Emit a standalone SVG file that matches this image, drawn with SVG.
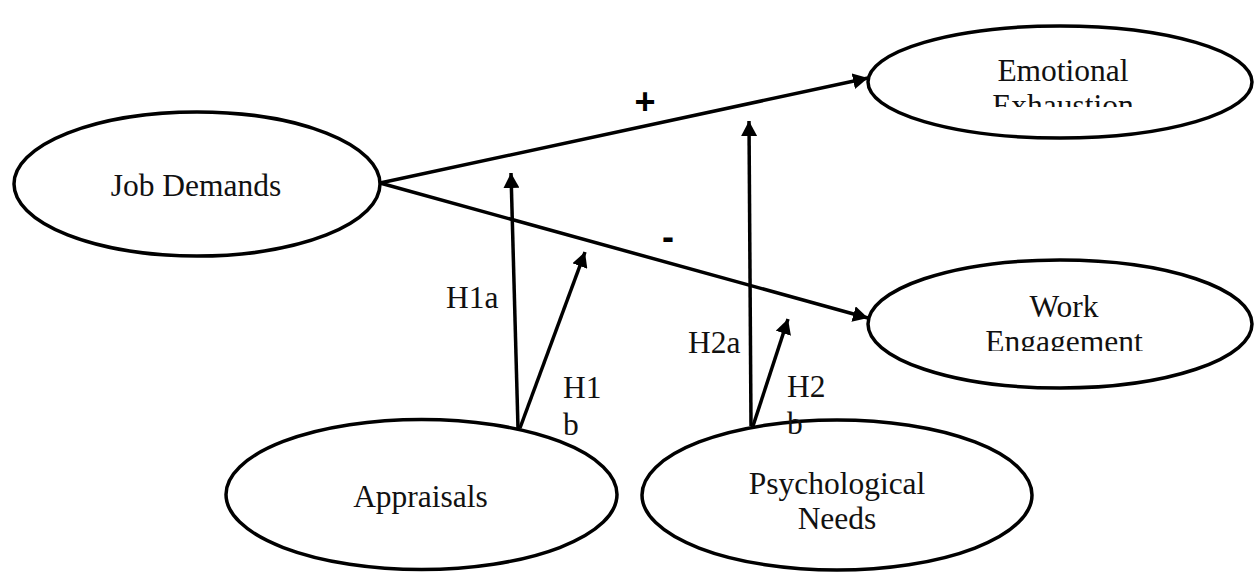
<svg xmlns="http://www.w3.org/2000/svg" width="1259" height="574" viewBox="0 0 1259 574">
  <style>
    .node ellipse { fill: #fff; stroke: #000; stroke-width: 3.5; }
    .lbl { font-family: "Liberation Serif", "Times New Roman", serif; font-size: 31.5px; fill: #111; }
    .sign { font-family: "Liberation Sans", Arial, sans-serif; font-size: 36px; font-weight: bold; fill: #000; }
    .conn line { stroke: #000; stroke-width: 3.5; marker-end: url(#arrow); }
  </style>
  <defs>
    <marker id="arrow" markerUnits="userSpaceOnUse" markerWidth="16" markerHeight="16" refX="15" refY="8" orient="auto">
      <path d="M0,0 L15,8 L0,16 Z" fill="#000"/>
    </marker>
    <clipPath id="clipEE"><rect x="860" y="20" width="400" height="87"/></clipPath>
    <clipPath id="clipWE"><rect x="860" y="250" width="400" height="101"/></clipPath>
  </defs>
  <rect width="1259" height="574" fill="#fff"/>

  <g id="job-demands" class="node">
    <ellipse cx="197" cy="184" rx="183" ry="72"/>
    <text class="lbl" x="196" y="196" text-anchor="middle">Job Demands</text>
  </g>
  <g id="emotional-exhaustion" class="node">
    <ellipse cx="1060" cy="82" rx="192" ry="56"/>
    <g clip-path="url(#clipEE)">
      <text class="lbl" x="1063" y="81" text-anchor="middle">Emotional</text>
      <text class="lbl" x="1063" y="116" text-anchor="middle">Exhaustion</text>
    </g>
  </g>
  <g id="work-engagement" class="node">
    <ellipse cx="1060" cy="324" rx="192" ry="64"/>
    <g clip-path="url(#clipWE)">
      <text class="lbl" x="1064" y="317" text-anchor="middle">Work</text>
      <text class="lbl" x="1064" y="352" text-anchor="middle">Engagement</text>
    </g>
  </g>
  <g id="appraisals" class="node">
    <ellipse cx="421.5" cy="494.5" rx="195.5" ry="75"/>
    <text class="lbl" x="420.5" y="507" text-anchor="middle">Appraisals</text>
  </g>
  <g id="psychological-needs" class="node">
    <ellipse cx="837" cy="495" rx="195" ry="75"/>
    <text class="lbl" x="837" y="494" text-anchor="middle">Psychological</text>
    <text class="lbl" x="837" y="529" text-anchor="middle">Needs</text>
  </g>

  <g id="connectors" class="conn">
    <line x1="380" y1="183" x2="868" y2="78"/>
    <line x1="380" y1="183" x2="868" y2="318"/>
    <line x1="518" y1="428" x2="511" y2="173"/>
    <line x1="520" y1="428" x2="585" y2="252"/>
    <line x1="751" y1="426" x2="749" y2="121"/>
    <line x1="753" y1="426" x2="788" y2="319"/>
  </g>

  <g id="labels">
    <text class="sign" x="645" y="114" text-anchor="middle">+</text>
    <text class="sign" x="668" y="249" text-anchor="middle">-</text>
    <text class="lbl" x="446" y="308">H1a</text>
    <text class="lbl" x="563" y="398">H1</text>
    <text class="lbl" x="563" y="435">b</text>
    <text class="lbl" x="688" y="353">H2a</text>
    <text class="lbl" x="787" y="397">H2</text>
    <text class="lbl" x="787" y="434">b</text>
  </g>
</svg>
